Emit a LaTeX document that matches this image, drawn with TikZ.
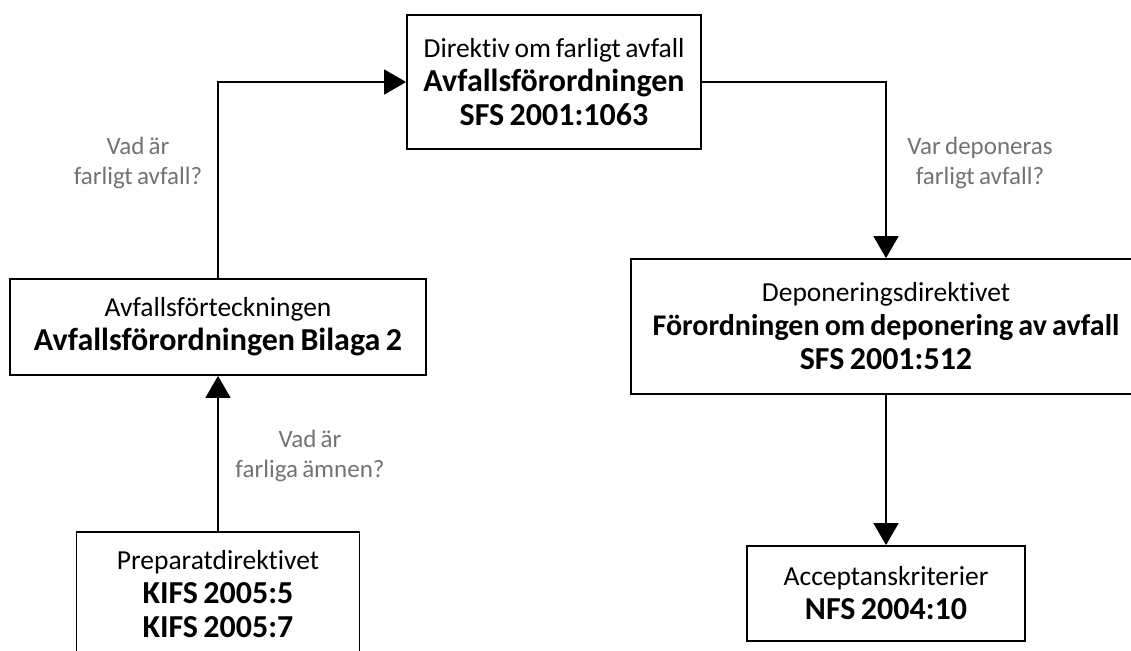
\documentclass[tikz,border=0pt]{standalone}
\usepackage{fontspec}
\setmainfont{Carlito}[Ligatures=NoCommon, WordSpace=0.75]
\usetikzlibrary{arrows.meta}
\tikzset{
  lawbox/.style={draw, line width=1.8pt, align=center, inner sep=0pt,
    font=\fontsize{27.5}{34}\selectfont},
  question/.style={align=center, text=black!55, font=\fontsize{25}{30}\selectfont},
  flow/.style={line width=1.8pt, -{Triangle[width=25pt,length=22pt]}},
}
\newcommand{\lawname}[2][32]{{\fontsize{#1}{34}\selectfont\bfseries #2}}
\begin{document}
\begin{tikzpicture}[x=1pt,y=-1pt]
      \useasboundingbox (0,0) rectangle (1131,650);
      \fill[white] (0,0) rectangle (1131,650);
      \node[lawbox, minimum width=294pt, minimum height=134pt] (dir) at (554,82)
        {Direktiv om farligt avfall\\\lawname{Avfallsförordningen}\\\lawname{SFS 2001:1063}};
      \node[lawbox, minimum width=416pt, minimum height=96pt] (lista) at (218,327)
        {Avfallsförteckningen\\\lawname{Avfallsförordningen Bilaga 2}};
      \node[lawbox, minimum width=283pt, minimum height=124pt] (prep) at (218,594)
        {Preparatdirektivet\\\lawname{KIFS 2005:5}\\\lawname{KIFS 2005:7}};
      \node[lawbox, minimum width=510pt, minimum height=135pt] (depon) at (886,326.5)
        {Deponeringsdirektivet\\\lawname[30]{Förordningen om deponering av avfall}\\\lawname{SFS 2001:512}};
      \node[lawbox, minimum width=278pt, minimum height=95pt] (accept) at (886,593.5)
        {Acceptanskriterier\\\lawname{NFS 2004:10}};
      \node[question] (q1) at (138,163) {Vad är\\farligt avfall?};
      \node[question] (q2) at (310,456) {Vad är\\farliga ämnen?};
      \node[question] (q3) at (980,163) {Var deponeras\\farligt avfall?};
      \begin{scope}[flow]
        \draw (lista) |- (dir);
        \draw (dir) -| (depon);
        \draw (prep) -- (lista);
        \draw (depon) -- (accept);
      \end{scope}
    \end{tikzpicture}
\end{document}
